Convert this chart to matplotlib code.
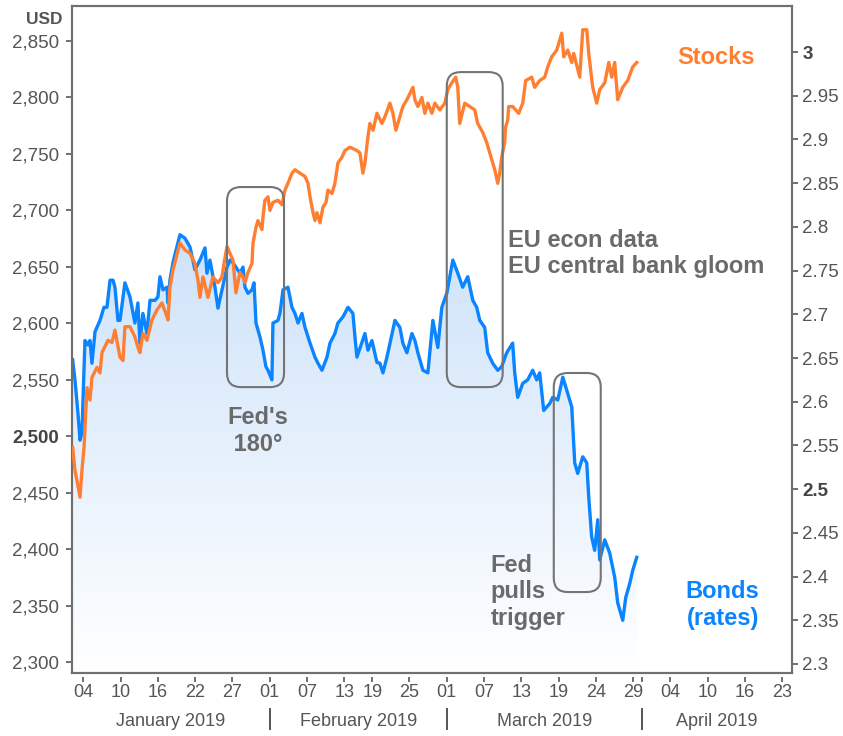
import numpy as np
import matplotlib as mpl
mpl.use('Agg')
import matplotlib.pyplot as plt
from matplotlib.colors import LinearSegmentedColormap
from matplotlib.patches import FancyBboxPatch
from matplotlib.transforms import blended_transform_factory

plt.rcParams['font.family'] = ['Liberation Sans', 'DejaVu Sans']

# x = trading days counted from 2 Jan 2019 (weekends and market holidays removed)
stock_day = [0.86, 1.11, 1.65, 1.86, 2.08, 2.40, 2.72, 2.93, 3.47, 3.79, 4.01, 4.65, 5.08, 5.40,
             5.94, 6.26, 6.47, 7.01, 7.54, 7.86, 8.08, 8.40, 8.83, 9.37, 9.91, 10.44, 10.98, 11.09,
             11.30, 11.62, 12.37, 12.91, 13.45, 13.98, 14.31, 14.52, 14.84, 15.38, 15.91, 16.45,
             16.88, 17.10, 17.42, 17.74, 18.06, 18.38, 18.81, 19.14, 19.35, 19.67, 20.10, 20.21,
             20.53, 20.74, 21.17, 21.28, 21.49, 21.82, 22.03, 22.35, 22.89, 23.32, 23.64, 23.96,
             24.39, 24.71, 25.25, 25.79, 26.11, 26.33, 26.65, 26.86, 27.07, 27.40, 27.72, 28.04,
             28.25, 28.68, 29.00, 29.32, 29.75, 30.07, 30.61, 31.36, 31.68, 32.00, 32.22, 32.54,
             32.75, 33.08, 33.51, 34.04, 34.37, 34.90, 35.22, 35.54, 35.97, 36.29, 36.72, 37.37,
             37.58, 37.90, 38.33, 38.65, 38.97, 39.40, 39.72, 40.25, 40.79, 41.11, 41.54, 41.96,
             42.18, 42.39, 42.93, 43.47, 44.00, 44.32, 44.86, 45.29, 45.82, 46.15, 46.47, 46.68,
             46.89, 47.21, 47.32, 47.54, 47.64, 48.07, 48.72, 49.15, 49.47, 50.11, 50.43, 50.97,
             51.51, 51.83, 52.26, 52.80, 53.34, 53.55, 53.98, 54.41, 54.62, 55.27, 55.59, 56.02,
             56.23, 56.66, 57.09, 57.41, 57.95, 58.38, 58.70, 59.02, 59.34, 59.88, 60.41, 60.95,
             61.38]
stock_usd = [2490, 2470, 2446, 2470, 2490, 2543, 2532, 2552, 2561, 2556, 2574, 2585, 2583, 2594,
             2570, 2567, 2597, 2597, 2588, 2579, 2574, 2591, 2585, 2603, 2612, 2618, 2606, 2603,
             2632, 2647, 2671, 2665, 2662, 2653, 2638, 2623, 2641, 2623, 2641, 2636,
             2641, 2653, 2668, 2662, 2656, 2627, 2645, 2641, 2636, 2645, 2653, 2671,
             2685, 2691, 2683, 2694, 2709, 2712, 2700, 2707, 2709, 2705, 2718, 2724,
             2733, 2736, 2733, 2730, 2724, 2712, 2698, 2691, 2698, 2689, 2703, 2707,
             2718, 2715, 2724, 2742, 2747, 2753, 2756, 2753, 2751, 2733, 2742, 2765,
             2777, 2771, 2786, 2777, 2783, 2795, 2786, 2771, 2783, 2792, 2798, 2809,
             2798, 2792, 2800, 2786, 2795, 2786, 2795, 2789, 2795, 2807, 2813, 2818,
             2809, 2777, 2795, 2792, 2789, 2777, 2769, 2760, 2745, 2736, 2724, 2733,
             2747, 2760, 2774, 2780, 2792, 2792, 2786, 2795, 2815, 2818, 2809, 2815,
             2818, 2827, 2836, 2842, 2857, 2836, 2842, 2831, 2839, 2818, 2860, 2860,
             2839, 2809, 2795, 2807, 2813, 2831, 2818, 2831, 2798, 2809, 2815, 2827,
             2831]

bond_day = [0.86, 1.11, 1.43, 1.65, 1.86, 2.18, 2.50, 2.72, 2.93, 3.26, 3.79, 4.22, 4.54, 4.87,
            5.19, 5.40, 5.72, 5.94, 6.47, 7.01, 7.34, 7.54, 7.86, 8.08, 8.40, 8.83, 9.16, 9.70,
            10.01, 10.23, 10.55, 10.98, 11.09, 11.30, 11.62, 12.37, 12.91, 13.45, 13.98, 14.52,
            15.06, 15.27, 15.59, 16.13, 16.45, 16.88, 17.42, 17.74, 18.06, 18.81, 19.14, 19.35,
            19.67, 20.10, 20.32, 20.53, 20.96, 21.28, 21.60, 21.82, 22.24, 22.35, 22.89, 23.10,
            23.43, 23.96, 24.39, 24.71, 25.04, 25.46, 25.79, 26.33, 26.86, 27.18, 27.61, 28.15,
            28.47, 29.00, 29.32, 29.86, 30.40, 30.93, 31.15, 31.36, 32.22, 32.54, 32.97, 33.51,
            33.83, 34.15, 34.58, 35.44, 35.97, 36.29, 36.72, 37.26, 37.58, 37.90, 38.44, 38.97,
            39.51, 40.04, 40.47, 41.00, 41.65, 42.18, 42.71, 43.25, 43.79, 44.21, 44.54, 45.07,
            45.39, 45.93, 46.47, 46.89, 47.43, 48.07, 48.29, 48.61, 49.15, 49.68, 50.22, 50.65,
            50.97, 51.40, 52.05, 52.37, 52.91, 53.45, 53.88, 54.41, 54.73, 55.05, 55.59, 56.02,
            56.23, 56.55, 56.87, 57.20, 57.41, 57.95, 58.48, 59.02, 59.34, 59.88, 60.20, 60.63,
            60.95, 61.38]
bond_rate = [2.648, 2.625, 2.587, 2.556, 2.565, 2.670, 2.665, 2.670, 2.644, 2.680, 2.693, 2.708, 2.708, 2.739,
             2.739, 2.731, 2.693, 2.693, 2.736, 2.720, 2.701, 2.690, 2.713, 2.667, 2.701, 2.678, 2.716, 2.716,
             2.720, 2.743, 2.728, 2.731, 2.713, 2.739, 2.759, 2.791, 2.787, 2.777, 2.751, 2.762,
             2.776, 2.747, 2.762, 2.731, 2.707, 2.728, 2.754, 2.762, 2.759, 2.747, 2.754, 2.731,
             2.724, 2.728, 2.736, 2.690, 2.674, 2.659, 2.640, 2.636, 2.625, 2.690, 2.693, 2.701,
             2.728, 2.731, 2.708, 2.701, 2.690, 2.701, 2.685, 2.667, 2.651, 2.644, 2.636, 2.651,
             2.667, 2.678, 2.690, 2.697, 2.708, 2.701, 2.674, 2.651, 2.678, 2.659, 2.670, 2.645,
             2.644, 2.633, 2.651, 2.693, 2.685, 2.667, 2.656, 2.678, 2.670, 2.656, 2.636, 2.633,
             2.693, 2.662, 2.708, 2.724, 2.762, 2.747, 2.731, 2.743, 2.716, 2.708, 2.693, 2.685,
             2.656, 2.644, 2.636, 2.640, 2.656, 2.667, 2.633, 2.605, 2.621, 2.625, 2.636, 2.625,
             2.633, 2.590, 2.598, 2.605, 2.602, 2.628, 2.613, 2.594, 2.530, 2.518, 2.537, 2.530,
             2.491, 2.445, 2.430, 2.465, 2.419, 2.442, 2.427, 2.399, 2.370, 2.350, 2.376, 2.392,
             2.407, 2.422]

holidays = ['2019-02-18', '2019-04-19']
tick_dates = ['2019-01-04', '2019-01-10', '2019-01-16', '2019-01-22', '2019-01-27',
              '2019-02-01', '2019-02-07', '2019-02-13', '2019-02-19', '2019-02-25',
              '2019-03-01', '2019-03-07', '2019-03-13', '2019-03-19', '2019-03-24', '2019-03-29',
              '2019-04-04', '2019-04-10', '2019-04-16', '2019-04-23']
tick_labels = [d[-2:] for d in tick_dates]
month_starts = ['2019-02-01', '2019-03-01', '2019-04-01']
month_names = ['January 2019', 'February 2019', 'March 2019', 'April 2019']
usd_ticks = np.arange(2300, 2851, 50)
rate_ticks = np.arange(2.30, 3.001, 0.05)


def tday(d):
    return np.busday_count('2019-01-02', d, holidays=holidays)


orange = '#ff7f32'
blue = '#0a84ff'
grey = '#6a6a6a'
axis_grey = '#707070'
label_grey = '#555555'

xlim = (0.79, 78.04)
ylim_usd = (2290.3, 2881)
ylim_rate = (2.2897, 3.0526)

fig = plt.figure(figsize=(8.43, 7.36), dpi=100)
ax = fig.add_axes([0.0854, 0.0856, 0.8541, 0.9062])
ax2 = ax.twinx()
ax.set_zorder(ax2.get_zorder() + 1)
ax.patch.set_visible(False)

# bonds with a fading area underneath
poly = ax2.fill_between(bond_day, bond_rate, ylim_rate[0], facecolor='none', edgecolor='none')
fade = LinearSegmentedColormap.from_list('fade', ['#ffffff', '#cde2fa'])
img = ax2.imshow(np.linspace(0, 1, 256).reshape(-1, 1), cmap=fade, aspect='auto', origin='lower',
                 extent=[bond_day[0], bond_day[-1], ylim_rate[0], 2.80], zorder=1)
img.set_clip_path(poly.get_paths()[0], transform=ax2.transData)
ax2.plot(bond_day, bond_rate, color=blue, lw=2.4, zorder=3)

ax.plot(stock_day, stock_usd, color=orange, lw=2.4, zorder=3)

ax.set_xlim(*xlim)
ax.set_ylim(*ylim_usd)
ax2.set_ylim(*ylim_rate)

for a in (ax, ax2):
    for s in a.spines.values():
        s.set_color(axis_grey)
        s.set_linewidth(1.5)

ax.set_yticks(usd_ticks)
ax.set_yticklabels(['{:,}'.format(v) for v in usd_ticks])
ax.tick_params(axis='y', length=4.5, width=1.4, color=axis_grey, pad=5,
               labelsize=13.5, labelcolor=label_grey)
ax2.set_yticks(rate_ticks)
ax2.set_yticklabels(['{:g}'.format(round(v, 2)) for v in rate_ticks])
ax2.tick_params(axis='y', length=4.5, width=1.4, color=axis_grey, pad=3,
                labelsize=13.5, labelcolor=label_grey)
for t in ax.get_yticklabels():
    if t.get_text() == '2,500':
        t.set_fontweight('bold')
        t.set_color('#444444')
for t in ax2.get_yticklabels():
    if t.get_text() in ('2.5', '3'):
        t.set_fontweight('bold')
        t.set_color('#444444')

ax.set_xticks(tday(tick_dates))
ax.set_xticklabels(tick_labels)
ax.tick_params(axis='x', length=0, pad=8, labelsize=13, labelcolor=label_grey)

trans = blended_transform_factory(ax.transData, ax.transAxes)
ax.vlines(list(tday(tick_dates)) + list(tday(month_starts)), -0.006, -0.014, transform=trans,
          clip_on=False, color=axis_grey, lw=1.4)
ax.vlines(tday(month_starts), -0.052, -0.086, transform=trans, clip_on=False,
          color=label_grey, lw=1.4)
bounds = [xlim[0]] + list(tday(month_starts)) + [xlim[1]]
for i, name in enumerate(month_names):
    ax.text((bounds[i] + bounds[i + 1]) / 2, -0.072, name, transform=trans, ha='center',
            va='center', fontsize=13, color=label_grey)

fig.text(63 / 843, 1 - 19.5 / 736, 'USD', ha='right', va='center', fontsize=12.5,
         fontweight='bold', color=label_grey)


def event_box(x0, x1, y0, y1):
    ax.add_patch(FancyBboxPatch((x0, y0), x1 - x0, y1 - y0,
                                boxstyle='round,pad=0,rounding_size=1.5', mutation_aspect=8.26,
                                fc='none', ec='#747474', lw=1.5, zorder=5))


event_box(17.42, 23.54, 2543.5, 2720.7)
event_box(41.0, 47.0, 2543.5, 2822.5)
event_box(52.48, 57.52, 2362, 2556)

note = dict(fontsize=17, fontweight='bold', color=grey, zorder=6)
ax.text(17.42, 2504.6, "Fed's\n 180°", ha='left', va='center', **note)
ax.text(47.54, 2661.8, 'EU econ data\nEU central bank gloom', ha='left', va='center', **note)
ax.text(45.73, 2362.2, 'Fed\npulls\ntrigger', ha='left', va='center', **note)
ax.text(69.9, 2835.8, 'Stocks', ha='center', va='center', fontsize=17, fontweight='bold',
        color=orange)
ax.text(70.6, 2350.4, 'Bonds\n(rates)', ha='center', va='center', fontsize=17,
        fontweight='bold', color=blue, multialignment='center')

fig.savefig('out.png', dpi=100, facecolor='white')
